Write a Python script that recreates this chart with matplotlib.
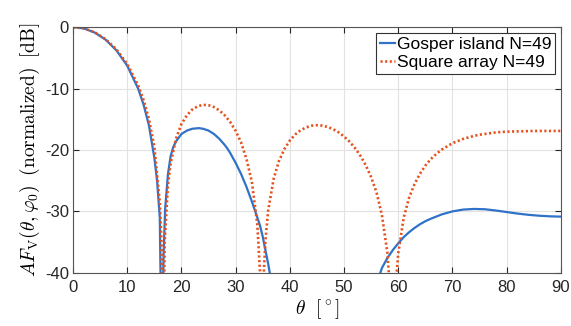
import matplotlib
matplotlib.use("Agg")
import numpy as np
import matplotlib.pyplot as plt

# values (dB, normalized); points below -40 are clipped by the axes
gosper_theta = [0, 2, 4, 6, 8, 10, 12, 13, 14, 15, 15.5, 16, 16.36, 16.7, 17.0, 17.5,
                18.0, 18.5, 19, 20, 21, 22, 23.2, 24, 25, 26, 27, 28, 28.5, 29, 30,
                31, 32, 33, 33.7, 34.5, 35, 36, 36.5, 37.5,
                56.0, 56.7, 57, 58, 59, 60, 61, 62, 63, 64, 65, 66, 68, 70, 72, 74,
                76, 78, 80, 82, 84, 86, 88, 90]
gosper_db = [0, -0.22, -0.9, -2.05, -3.8, -6.3, -10.0, -12.6, -16.0, -21.3, -25, -31,
             -55, -37, -29.5, -24, -21, -19.5, -18.6, -17.4, -16.85, -16.55, -16.45,
             -16.55, -16.85, -17.4, -18.2, -19.2, -19.8, -20.5, -22.1, -23.9, -26.0,
             -28.4, -30.2, -32.3, -34.1, -38.5, -41, -47,
             -47, -40, -39.2, -37.6, -36.3, -35.2, -34.2, -33.4, -32.7, -32.1, -31.6,
             -31.2, -30.5, -30.0, -29.7, -29.6, -29.65, -29.85, -30.1, -30.35, -30.55,
             -30.7, -30.8, -30.85]
gosper_db = [np.nan if t > 37.5 and t < 56 else v for t, v in zip(gosper_theta, gosper_db)]

square_theta = [0, 2, 4, 6, 8, 10, 12, 13, 14, 15, 16, 16.3, 16.6, 16.9, 17.5, 18, 19,
                20, 21, 22, 23, 24, 25, 26, 27, 28, 29, 30, 31, 32, 33, 34, 34.5, 34.85,
                35.2, 35.5, 36, 37, 38, 39, 40, 41, 42, 43, 44, 45, 46, 47, 48, 49, 50,
                51, 52, 53, 54, 55, 56, 57, 58, 58.5, 59, 59.5, 60, 61, 62, 63, 64, 65,
                66, 67, 68, 70, 72, 74, 75, 78, 80, 85, 90]
square_db = [0, -0.21, -0.85, -1.97, -3.63, -6.01, -9.47, -11.85, -14.97, -19.5, -28.5,
             -34.7, -60, -35.0, -25.8, -22.2, -18.14, -15.78, -14.36, -13.42, -12.89,
             -12.66, -12.72, -13.02, -13.57, -14.37, -15.45, -16.9, -18.75, -21.47,
             -25.2, -32.1, -39.9, -60, -40.0, -34.7, -29.9, -24.76, -21.8, -19.85,
             -18.47, -17.48, -16.79, -16.33, -16.06, -15.97, -16.04, -16.26, -16.62,
             -17.13, -17.8, -18.63, -19.65, -20.91, -22.46, -24.4, -26.9, -30.6, -36.7,
             -42.7, -60, -42.8, -36.9, -31.1, -27.8, -25.58, -23.9, -22.56, -21.5,
             -20.68, -19.96, -18.91, -18.2, -17.71, -17.52, -17.15, -17.02, -16.91, -16.9]

labels = ["Gosper island N=49", "Square array N=49"]
xticks = [0, 10, 20, 30, 40, 50, 60, 70, 80, 90]
yticks = [0, -10, -20, -30, -40]

plt.rcParams['font.family'] = ['Liberation Sans', 'DejaVu Sans']
plt.rcParams['mathtext.fontset'] = 'cm'
plt.rcParams['axes.unicode_minus'] = False

fig = plt.figure(figsize=(5.71, 3.26), dpi=100)
ax = fig.add_axes([0.128, 0.163, 0.854, 0.754])

ax.plot(gosper_theta, gosper_db, color='#2f72c8', lw=1.6, label=labels[0])
ax.plot(square_theta, square_db, color='#e5501c', lw=1.9, linestyle=(0, (0.8, 0.95)),
        dash_capstyle='butt', label=labels[1])

ax.set_xlim(0, 90)
ax.set_ylim(-40, 0)
ax.set_xticks(xticks)
ax.set_yticks(yticks)
ax.grid(True, color='#e2e2e2', lw=0.8)
ax.set_axisbelow(True)
ax.tick_params(direction='in', length=4, top=True, right=True, labelsize=12,
               colors='#262626')
ax.tick_params(axis='x', pad=5)
ax.tick_params(axis='y', pad=3)
for s in ax.spines.values():
    s.set_color('#555555')
    s.set_linewidth(0.8)

ax.set_xlabel(r'$\theta\ \ [^\circ]$', fontsize=14, labelpad=2)
ax.set_ylabel(r'$AF_{\mathrm{V}}(\theta,\varphi_0)\;\;\mathrm{(normalized)}\;\;\mathrm{[dB]}$',
              fontsize=14, labelpad=2)

leg = ax.legend(loc='upper right', fontsize=12.5, fancybox=False, framealpha=1,
                edgecolor='#333333', handlelength=0.85, handletextpad=0.1,
                borderpad=0.22, labelspacing=0.17, borderaxespad=0.33)
leg.get_frame().set_linewidth(0.8)

fig.savefig('out.png', dpi=100)
